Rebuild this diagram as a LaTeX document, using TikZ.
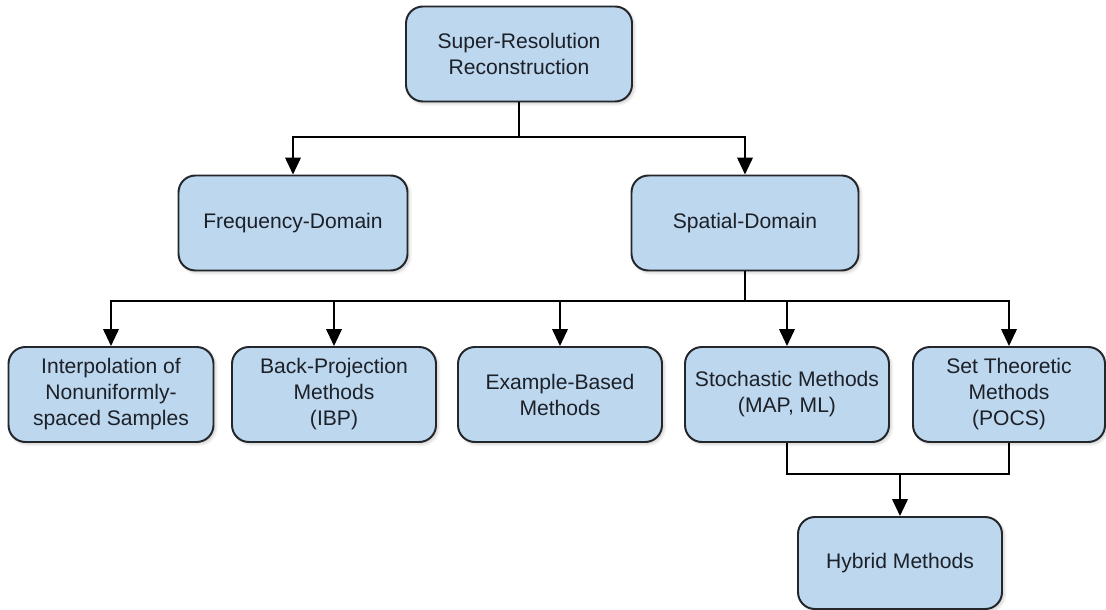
\documentclass[tikz,border=0pt]{standalone}
\usepackage{fontspec}
\setmainfont{Liberation Sans}
\usetikzlibrary{arrows.meta,shadows.blur,calc}
\definecolor{boxfill}{RGB}{189,215,238}
\definecolor{boxline}{RGB}{35,38,42}
\definecolor{boxtext}{RGB}{28,32,40}
\tikzset{
  stepbox/.style 2 args={draw=boxline, line width=1.4pt, fill=boxfill,
    rounded corners=12pt, align=center, inner sep=0pt,
    minimum width=#1*0.025cm, minimum height=#2*0.025cm,
    text=boxtext, font=\fontsize{15}{18.5}\selectfont,
    blur shadow={shadow blur steps=6, shadow xshift=1.5pt, shadow yshift=-1.5pt, shadow opacity=20}},
  link/.style={draw=black, line width=1.4pt},
  arr/.style={link, -{Triangle[width=11pt,length=12pt]}}
}
\begin{document}
\begin{tikzpicture}[x=0.025cm, y=-0.025cm]
\useasboundingbox (0,0) rectangle (1106,610);

% root and first level
\node[stepbox={226}{95}] (root) at (519,54) {Super-Resolution\\Reconstruction};
\node[stepbox={229}{95}] (freq) at (293,223) {Frequency-Domain};
\node[stepbox={227}{95}] (spat) at (745,223) {Spatial-Domain};

% spatial-domain methods
\node[stepbox={205}{95}] (interp) at (111,394.5) {Interpolation of\\Nonuniformly-\\spaced Samples};
\node[stepbox={204}{95}] (ibp) at (334,394.5) {Back-Projection\\Methods\\(IBP)};
\node[stepbox={204}{95}] (expl) at (560,394.5) {Example-Based\\Methods};
\node[stepbox={204}{95}] (stoch) at (787,394.5) {Stochastic Methods\\(MAP, ML)};
\node[stepbox={192}{95}] (sett) at (1009,394.5) {Set Theoretic\\Methods\\(POCS)};

% hybrid
\node[stepbox={204}{92}] (hyb) at (900,563) {Hybrid Methods};

% bus lines
\coordinate (busA) at (519,137);
\coordinate (busB) at (745,301);
\coordinate (busC) at (900,474);

\draw[link] (root.south) -- (busA);
\draw[arr] (busA) -| (freq.north);
\draw[arr] (busA) -| (spat.north);

\draw[link] (spat.south) -- (busB);
\draw[arr] (busB) -| (interp.north);
\draw[arr] (busB) -| (ibp.north);
\draw[arr] (busB) -| (expl.north);
\draw[arr] (busB) -| (stoch.north);
\draw[arr] (busB) -| (sett.north);

\draw[link] (stoch.south) |- (busC);
\draw[link] (sett.south) |- (busC);
\draw[arr] (busC) -- (hyb.north);
\end{tikzpicture}
\end{document}
